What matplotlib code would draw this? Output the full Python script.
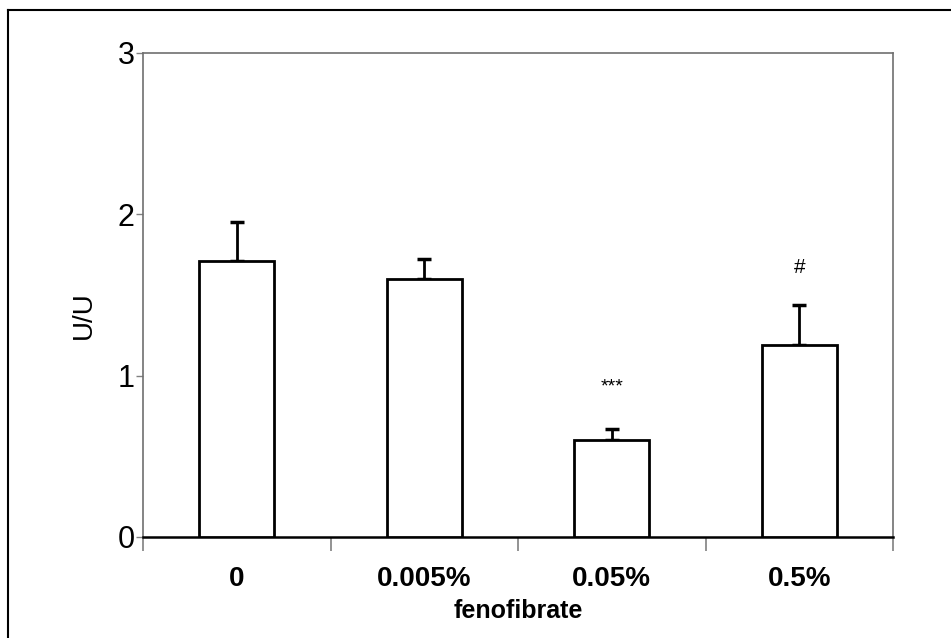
import numpy as np
import matplotlib.pyplot as plt
from matplotlib.lines import Line2D

plt.rcParams['font.family'] = ['Liberation Sans', 'DejaVu Sans']

groups = ['0', '0.005%', '0.05%', '0.5%']
values = [1.71, 1.60, 0.60, 1.19]
errors = [0.24, 0.12, 0.07, 0.25]
marks = ['', '', '***', '#']
mark_y = [0, 0, 0.93, 1.67]

fig = plt.figure(figsize=(9.51, 6.38), dpi=100)
ax = fig.add_axes([143/951, 1-537/638, 750/951, (537-52.7)/638])

x = np.arange(len(groups))
ax.bar(x, values, width=0.4, color='white', edgecolor='black', linewidth=2, zorder=3)
ax.errorbar(x, values, yerr=[np.zeros(len(errors)), errors], fmt='none',
            ecolor='black', elinewidth=2, capsize=5, capthick=2.5, zorder=2)

for i, m in enumerate(marks):
    if m:
        ax.text(x[i], mark_y[i], m, ha='center', va='center',
                fontsize=15 if m == '#' else 14)

ax.set_xlim(-0.5, 3.5)
ax.set_ylim(0, 3)
ax.set_yticks([0, 1, 2, 3])
ax.tick_params(axis='y', direction='out', length=5, width=1, color='#808080',
               labelsize=22, pad=1)

ax.set_xticks(np.arange(-0.5, 4, 1))
ax.set_xticklabels([])
ax.set_xticks(x, minor=True)
ax.set_xticklabels(groups, minor=True, fontweight='bold', fontsize=20)
ax.tick_params(axis='x', which='major', direction='out', length=10, width=1.2, color='#808080')
ax.tick_params(axis='x', which='minor', length=0, pad=21)

for s in ['left', 'top', 'right']:
    ax.spines[s].set_color('#707070')
    ax.spines[s].set_linewidth(1.2)
ax.spines['bottom'].set_color('black')
ax.spines['bottom'].set_linewidth(1.8)

fig.text(84/951, 1-315/638, 'U/U', rotation=90, ha='center', va='center', fontsize=20)
fig.text(518/951, 1-611/638, 'fenofibrate', ha='center', va='center',
         fontsize=18, fontweight='bold')

# outer frame (left and top edges visible)
fig.add_artist(Line2D([8/951, 8/951], [0, 1-10/638], color='black', linewidth=1.5,
                      transform=fig.transFigure))
fig.add_artist(Line2D([8/951, 1], [1-10/638, 1-10/638], color='black', linewidth=1.5,
                      transform=fig.transFigure))

fig.savefig('out.png', dpi=100)
